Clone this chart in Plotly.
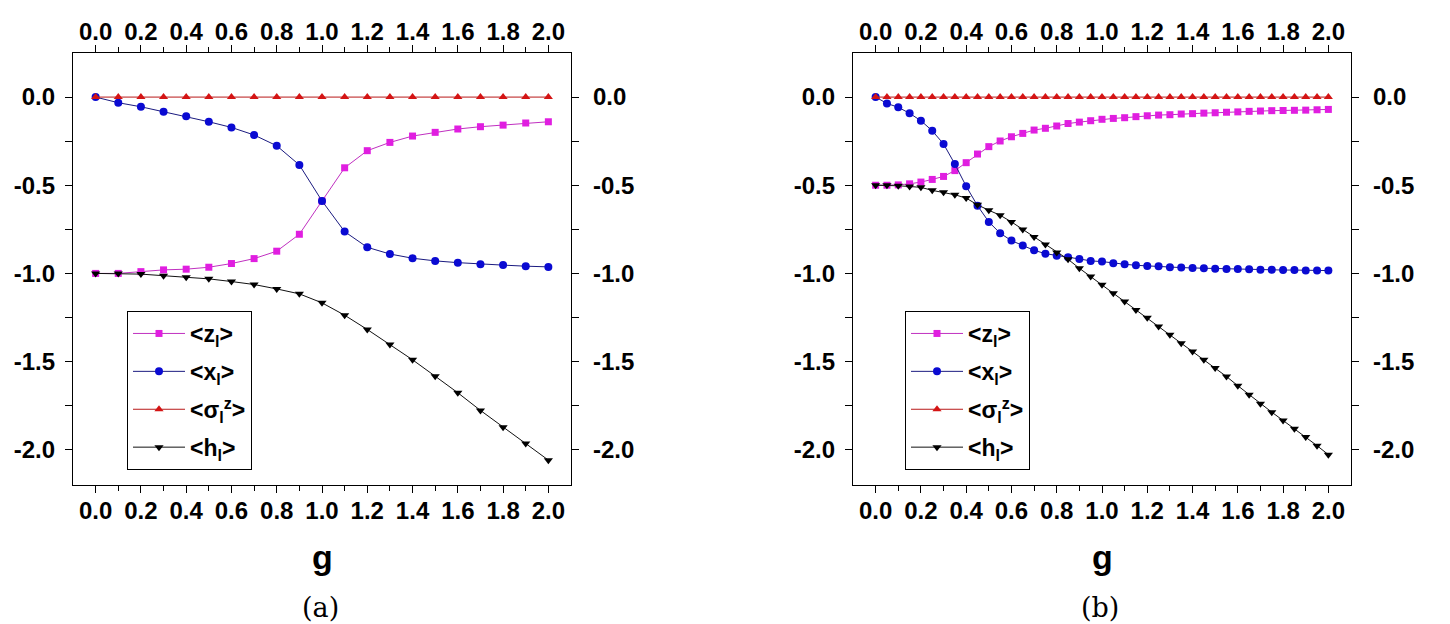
import numpy as np
import plotly.graph_objects as go

# ---------------- data ----------------
g_a = [round(0.1 * i, 2) for i in range(21)]
z_a = [-1.000, -1.000, -0.990, -0.980, -0.976, -0.965, -0.944, -0.916, -0.874, -0.778, -0.589,
       -0.401, -0.304, -0.257, -0.221, -0.200, -0.181, -0.168, -0.159, -0.147, -0.140]
x_a = [0.000, -0.032, -0.055, -0.083, -0.109, -0.140, -0.172, -0.215, -0.276, -0.385, -0.589,
       -0.763, -0.852, -0.890, -0.914, -0.929, -0.939, -0.948, -0.953, -0.959, -0.963]
s_a = [0.0] * 21
h_a = [-1.000, -1.000, -1.004, -1.013, -1.022, -1.031, -1.046, -1.063, -1.088, -1.116, -1.167,
       -1.237, -1.318, -1.403, -1.490, -1.583, -1.677, -1.777, -1.872, -1.964, -2.059]

g_b = [round(0.05 * i, 2) for i in range(41)]
z_b = [-0.500, -0.500, -0.498, -0.492, -0.482, -0.467, -0.450, -0.417, -0.372, -0.323, -0.281,
       -0.249, -0.225, -0.206, -0.187, -0.177, -0.164, -0.150, -0.142, -0.134, -0.126,
       -0.121, -0.117, -0.111, -0.106, -0.102, -0.100, -0.096, -0.094, -0.091, -0.089,
       -0.086, -0.084, -0.081, -0.079, -0.077, -0.076, -0.075, -0.074, -0.072, -0.070]
x_b = [0.000, -0.036, -0.058, -0.092, -0.134, -0.191, -0.266, -0.380, -0.506, -0.616, -0.708,
       -0.772, -0.814, -0.842, -0.869, -0.888, -0.900, -0.908, -0.918, -0.929, -0.933,
       -0.942, -0.948, -0.954, -0.958, -0.960, -0.965, -0.967, -0.969, -0.971, -0.973,
       -0.975, -0.975, -0.977, -0.979, -0.979, -0.981, -0.981, -0.983, -0.983, -0.984]
s_b = [0.0] * 41
h_b = [-0.500, -0.500, -0.503, -0.507, -0.512, -0.529, -0.540, -0.554, -0.573, -0.611, -0.642,
       -0.670, -0.708, -0.751, -0.794, -0.836, -0.882, -0.920, -0.971, -1.018, -1.065,
       -1.112, -1.160, -1.207, -1.252, -1.301, -1.348, -1.396, -1.443, -1.490, -1.537,
       -1.585, -1.637, -1.688, -1.739, -1.787, -1.834, -1.881, -1.928, -1.977, -2.028]

series_names = ["&lt;z<sub>l</sub>&gt;", "&lt;x<sub>l</sub>&gt;",
                "&lt;σ<sub>l</sub><sup>z</sup>&gt;", "&lt;h<sub>l</sub>&gt;"]
x_ticks = [0.0, 0.2, 0.4, 0.6, 0.8, 1.0, 1.2, 1.4, 1.6, 1.8, 2.0]
x_ticktext = ["0.0", "0.2", "0.4", "0.6", "0.8", "1.0", "1.2", "1.4", "1.6", "1.8", "2.0"]
x_minor = [0.1, 0.3, 0.5, 0.7, 0.9, 1.1, 1.3, 1.5, 1.7, 1.9]
y_ticks = [-2.0, -1.5, -1.0, -0.5, 0.0]
y_ticktext = ["-2.0", "-1.5", "-1.0", "-0.5", "0.0"]
y_minor = [-1.75, -1.25, -0.75, -0.25]
captions = ["(a)", "(b)"]
x_title = "g"

# ---------------- styles ----------------
W, H = 1450, 624
marker_colors = ["#e01ee0", "#0a0ad2", "#d41414", "#000000"]
line_colors = ["#c030c0", "#1a1a80", "#b81818", "#111111"]
symbols = ["square", "circle", "triangle-up", "triangle-down"]
msizes = [7, 8, 8, 8]

FONT = "Liberation Sans, Arial, sans-serif"
tickfont = dict(family=FONT, size=24, color="black", weight="bold")

ydom = [1 - 485 / H, 1 - 53 / H]
xdom_a = [73 / W, 571 / W]
xdom_b = [853 / W, 1351 / W]
xrange = [-0.1, 2.1]
yrange = [-2.2, 0.25]

fig = go.Figure()

panels = [
    dict(x="x", y="y", xo="x3", yo="y3", data=(g_a, [z_a, x_a, s_a, h_a]), legend="legend"),
    dict(x="x2", y="y2", xo="x4", yo="y4", data=(g_b, [z_b, x_b, s_b, h_b]), legend="legend2"),
]
for p in panels:
    gx, ys = p["data"]
    for i, yv in enumerate(ys):
        # the sigma series lives on the overlay (top/right) axes so those axes get drawn
        on_overlay = (i == 2)
        fig.add_trace(go.Scatter(
            x=gx, y=yv, mode="lines+markers", name=series_names[i],
            xaxis=p["xo"] if on_overlay else p["x"],
            yaxis=p["yo"] if on_overlay else p["y"],
            legend=p["legend"],
            legendgroup=p["legend"] + str(i),
            line=dict(color=line_colors[i], width=1),
            marker=dict(symbol=symbols[i], size=msizes[i], color=marker_colors[i],
                        line=dict(width=0)),
        ))


def xax(domain, anchor, side, overlay=None):
    d = dict(domain=domain, anchor=anchor, side=side, range=xrange,
             tickmode="array", tickvals=x_ticks, ticktext=x_ticktext,
             ticks="outside", ticklen=7, tickwidth=1.2, tickcolor="black",
             minor=dict(tickmode="array", tickvals=x_minor,
                        ticks="outside", ticklen=5, tickwidth=1.2, tickcolor="black", showgrid=False),
             showline=True, linecolor="black", linewidth=1.3,
             showgrid=False, zeroline=False, tickfont=tickfont,
             ticklabelstandoff=-5 if side == "top" else -3)
    if overlay:
        d["overlaying"] = overlay
    return d


def yax(domain, anchor, side, overlay=None):
    d = dict(domain=domain, anchor=anchor, side=side, range=yrange,
             tickmode="array", tickvals=y_ticks, ticktext=y_ticktext,
             ticks="outside", ticklen=7, tickwidth=1.2, tickcolor="black",
             minor=dict(tickmode="array", tickvals=y_minor,
                        ticks="outside", ticklen=7, tickwidth=1.2, tickcolor="black", showgrid=False),
             showline=True, linecolor="black", linewidth=1.3,
             showgrid=False, zeroline=False, tickfont=tickfont,
             ticklabelstandoff=9 if side == "right" else 5)
    if overlay:
        d["overlaying"] = overlay
    return d


legend_common = dict(
    xanchor="left", yanchor="top", bgcolor="white", bordercolor="black", borderwidth=1,
    font=dict(family=FONT, size=23, color="black", weight="bold"),
    tracegroupgap=5, itemwidth=52,
)

fig.update_layout(
    width=W, height=H, margin=dict(l=0, r=0, t=0, b=0),
    paper_bgcolor="white", plot_bgcolor="white",
    showlegend=True,
    xaxis=xax(xdom_a, "y", "bottom"),
    xaxis3=xax(xdom_a, "y", "top", overlay="x"),
    yaxis=yax(ydom, "x", "left"),
    yaxis3=yax(ydom, "x", "right", overlay="y"),
    xaxis2=xax(xdom_b, "y2", "bottom"),
    xaxis4=xax(xdom_b, "y2", "top", overlay="x2"),
    yaxis2=yax(ydom, "x2", "left"),
    yaxis4=yax(ydom, "x2", "right", overlay="y2"),
    legend=dict(x=127 / W, y=1 - 311 / H, **legend_common),
    legend2=dict(x=905 / W, y=1 - 311 / H, **legend_common),
)

for k, xd in enumerate([xdom_a, xdom_b]):
    cx = (xd[0] + xd[1]) / 2
    fig.add_annotation(x=cx, y=1 - 557 / H, xref="paper", yref="paper", text=x_title,
                       showarrow=False, xanchor="center", yanchor="middle",
                       font=dict(family=FONT, size=34, color="black", weight="bold"))
    fig.add_annotation(x=cx - 2 / W, y=1 - 607 / H, xref="paper", yref="paper", text=captions[k],
                       showarrow=False, xanchor="center", yanchor="middle",
                       font=dict(family="DejaVu Serif, serif", size=27, color="black"))

fig.write_html("out.html", config={"displayModeBar": False},
               post_script="document.body.style.margin='0';document.body.style.overflow='hidden';")
